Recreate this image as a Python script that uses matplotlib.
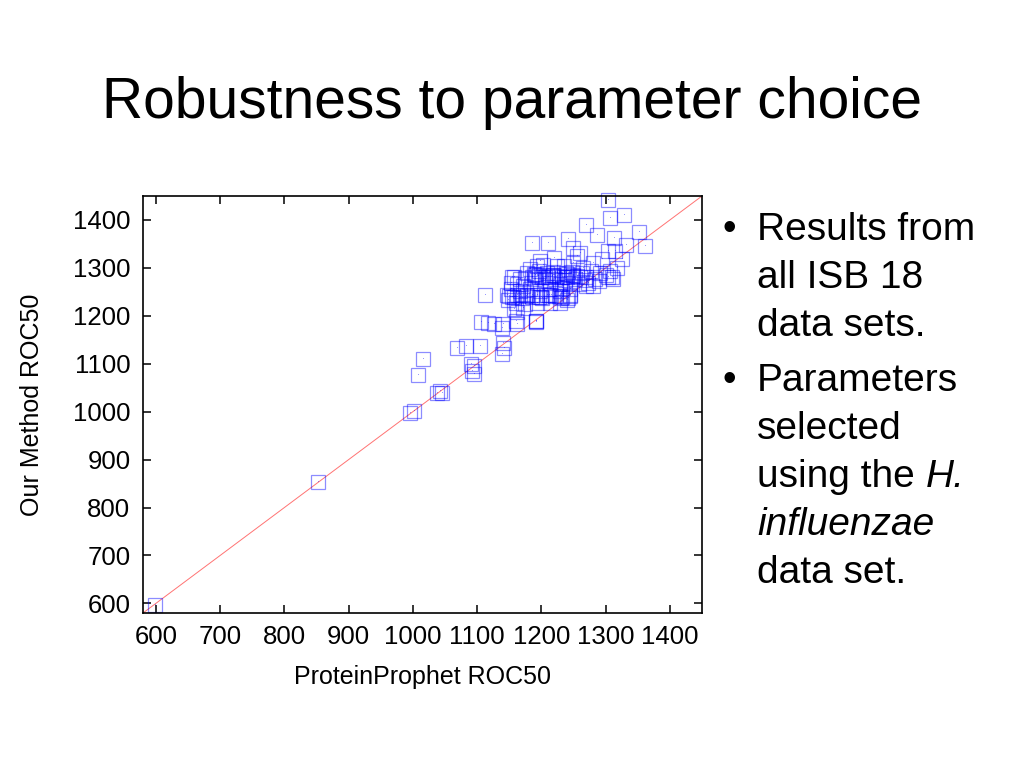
import matplotlib
matplotlib.use("Agg")
import matplotlib.pyplot as plt

plt.rcParams["font.family"] = ["Liberation Sans", "DejaVu Sans"]

# ProteinProphet ROC50 (x) vs Our Method ROC50 (y)
protein_prophet = [
    598, 853, 995, 1001, 1038, 1042, 1045, 1008, 1016,
    1095, 1092, 1095, 1090, 1068, 1082, 1104, 1140, 1142, 1139,
    1106, 1117, 1126, 1141, 1139, 1160, 1162, 1191, 1191, 1192,
    1157, 1162, 1172, 1160, 1175, 1193, 1214, 1229, 1240,
    1113, 1147, 1154, 1162, 1170, 1178, 1185, 1193, 1201, 1209, 1221, 1232, 1242,
    1152, 1167, 1183, 1198, 1214, 1229, 1245,
    1157, 1167, 1178, 1188, 1196, 1201, 1209, 1216, 1224, 1232, 1240, 1247,
    1255, 1263, 1270, 1278, 1283, 1291, 1304, 1307, 1312, 1281,
    1193, 1203, 1235, 1250, 1265, 1183, 1175, 1190, 1206, 1221, 1237, 1252, 1268,
    1162, 1154, 1152, 1172, 1214, 1229, 1245, 1258, 1273,
    1190, 1205, 1220, 1235, 1250, 1200, 1215, 1230, 1245,
    1185, 1195, 1210, 1225, 1240, 1250, 1260, 1192, 1218, 1238,
    1150, 1158, 1166, 1176, 1186, 1196, 1212, 1228, 1244, 1148,
    1303, 1307, 1329, 1269, 1352, 1362, 1287, 1313, 1331, 1325, 1315,
    1185, 1211, 1242, 1250, 1255, 1219, 1198, 1294, 1304, 1224, 1260, 1281,
    1300, 1318, 1290, 1270, 1232, 1310,
]
our_method = [
    597, 853, 998, 1002, 1038, 1043, 1039, 1076, 1109,
    1095, 1085, 1078, 1099, 1133, 1137, 1138, 1143, 1133, 1120,
    1187, 1186, 1182, 1182, 1175, 1189, 1182, 1189, 1190, 1188,
    1214, 1208, 1217, 1227, 1224, 1227, 1227, 1227, 1234,
    1243, 1243, 1240, 1243, 1238, 1243, 1240, 1243, 1238, 1243, 1241, 1240, 1238,
    1255, 1252, 1255, 1252, 1255, 1252, 1255,
    1282, 1276, 1290, 1287, 1294, 1282, 1290, 1284, 1290, 1282, 1287, 1292,
    1284, 1290, 1282, 1294, 1276, 1290, 1282, 1294, 1276, 1262,
    1303, 1307, 1304, 1310, 1300, 1297, 1278, 1276, 1275, 1276, 1275, 1276, 1275,
    1266, 1282, 1269, 1262, 1268, 1266, 1269, 1266, 1269,
    1285, 1280, 1285, 1280, 1285, 1240, 1243, 1238, 1242,
    1280, 1283, 1281, 1284, 1280, 1283, 1280, 1288, 1286, 1289,
    1242, 1240, 1244, 1241, 1243, 1240, 1244, 1241, 1243, 1232,
    1442, 1405, 1410, 1389, 1374, 1346, 1368, 1363, 1347, 1318, 1335,
    1351, 1351, 1361, 1342, 1325, 1321, 1314, 1318, 1335, 1304, 1332, 1311,
    1285, 1300, 1272, 1262, 1258, 1282,
]

ticks = [600, 700, 800, 900, 1000, 1100, 1200, 1300, 1400]

fig = plt.figure(figsize=(10.24, 7.68), dpi=100)
ax = fig.add_axes([143 / 1024, 1 - 613 / 768, 559 / 1024, 417 / 768])

ax.plot([0, 2000], [0, 2000], color="#ff5050", lw=0.7, alpha=0.8, zorder=1)
ax.plot(protein_prophet, our_method, "s", ms=10.3, mfc="none",
        mec=(0, 0, 1, 0.45), mew=0.9, zorder=2, clip_on=False)
ax.plot(protein_prophet, our_method, ",", color=(0, 0, 1, 0.4), zorder=2)

ax.set_xlim(580, 1450)
ax.set_ylim(580, 1450)
ax.set_xticks(ticks)
ax.set_yticks(ticks)
ax.tick_params(direction="in", top=True, right=True, length=6, width=1.1,
               labelsize=18.5, pad=9)
for s in ax.spines.values():
    s.set_linewidth(1.2)

ax.set_xlabel("ProteinProphet ROC50", fontsize=18, labelpad=11)
ax.set_ylabel("Our Method ROC50", fontsize=18, labelpad=21)

# slide title
fig.text(0.5, 1 - 118 / 768, "Robustness to parameter choice", fontsize=41,
         ha="center", va="baseline")

# bullet points
bullets = [
    (240, True, "Results from"),
    (288, False, "all ISB 18"),
    (336, False, "data sets."),
    (391, True, "Parameters"),
    (439, False, "selected"),
]
for yb, has_dot, line in bullets:
    if has_dot:
        fig.text(722 / 1024, 1 - yb / 768, "\u2022", fontsize=28, va="baseline")
    fig.text(757 / 1024, 1 - yb / 768, line, fontsize=28, va="baseline")

t = fig.text(757 / 1024, 1 - 487 / 768, "using the ", fontsize=28, va="baseline")
r = fig.canvas.get_renderer()
bb = t.get_window_extent(renderer=r)
fig.text(bb.x1 / 1024, 1 - 487 / 768, "H.", fontsize=28, style="italic",
         va="baseline")
fig.text(757 / 1024, 1 - 535 / 768, "influenzae", fontsize=28, style="italic",
         va="baseline")
fig.text(757 / 1024, 1 - 583 / 768, "data set.", fontsize=28, va="baseline")

fig.savefig("out.png", dpi=100)
